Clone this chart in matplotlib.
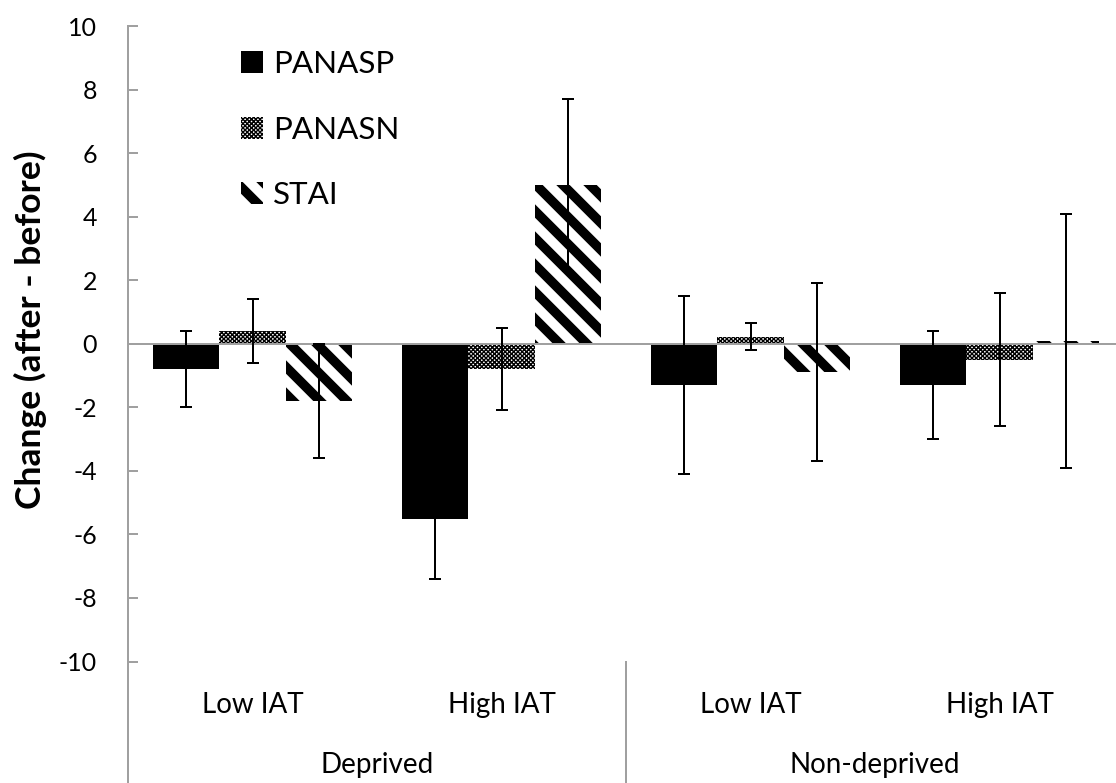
import matplotlib
matplotlib.use("Agg")
import matplotlib.pyplot as plt
import matplotlib.transforms as mtransforms
import numpy as np

# ---- data ----
groups = ["Deprived", "Non-deprived"]
subgroups = ["Low IAT", "High IAT", "Low IAT", "High IAT"]
series = ["PANASP", "PANASN", "STAI"]
panasp = [-0.8, -5.5, -1.3, -1.3]
panasp_err = [1.2, 1.9, 2.8, 1.7]
panasn = [0.4, -0.8, 0.22, -0.5]
panasn_err = [1.0, 1.3, 0.43, 2.1]
stai = [-1.8, 5.0, -0.9, 0.08]
stai_err = [1.8, 2.7, 2.8, 4.0]
yticks = list(range(-10, 11, 2))
ylabel = "Change (after - before)"

W, H, DPI = 1116, 783, 243
PT = 72.0 / DPI  # points per pixel

plt.rcParams['font.family'] = ['Lato', 'DejaVu Sans']
plt.rcParams['axes.unicode_minus'] = False
fig = plt.figure(figsize=(W / DPI, H / DPI), dpi=DPI)

left_px, right_px, top_px, bot_px = 128, 1124, 26, 661.5
ax = fig.add_axes([left_px / W, 1 - bot_px / H,
                   (right_px - left_px) / W, (bot_px - top_px) / H])

gray = "#a0a0a0"
x = np.arange(len(subgroups))
bw = 0.8 / 3
vals = [panasp, panasn, stai]
errs = [panasp_err, panasn_err, stai_err]
hatches = [None, "x" * 19, "\\\\\\"]
hlw = [1.4 * PT, 1.4 * PT, 9.5 * PT]
handles = []


def set_hlw(patch, w):
    if hasattr(patch, "set_hatch_linewidth"):
        patch.set_hatch_linewidth(w)


for i, (v, e) in enumerate(zip(vals, errs)):
    pos = x + (i - 1) * bw
    with plt.rc_context({'hatch.linewidth': hlw[i]}):
        bars = ax.bar(pos, v, width=bw, color="black" if i == 0 else "white",
                      edgecolor="black", linewidth=0, hatch=hatches[i], zorder=2)
        for b in bars:
            set_hlw(b, hlw[i])
    handles.append(bars)
    ax.errorbar(pos, v, yerr=e, fmt="none", ecolor="black",
                elinewidth=2 * PT, capsize=6 * PT, capthick=2 * PT, zorder=4)

ax.axhline(0, color=gray, lw=2 * PT, zorder=3)

ax.set_xlim(-0.5, len(subgroups) - 0.5)
ax.set_ylim(-10, 10)
ax.set_yticks(yticks)
ax.set_xticks([])
for s in ["top", "right", "bottom"]:
    ax.spines[s].set_visible(False)
ax.spines["left"].set_color(gray)
ax.spines["left"].set_linewidth(2 * PT)
ax.tick_params(axis="y", direction="in", length=10 * PT, width=2 * PT,
               color=gray, pad=31 * PT, labelsize=25 * PT, labelcolor="black")

# extend the left axis line and the group separator down to the bottom
ax.plot([-0.5, -0.5], [0, -0.3], transform=ax.get_xaxis_transform(),
        color=gray, lw=2 * PT, clip_on=False, zorder=1)
ax.plot([1.5, 1.5], [0, -0.3], transform=ax.get_xaxis_transform(),
        color=gray, lw=2 * PT, clip_on=False, zorder=1)

# category labels
tr = mtransforms.blended_transform_factory(ax.transData, fig.transFigure)
for xi, lab in zip(x, subgroups):
    ax.text(xi, 1 - 713 / H, lab, transform=tr, ha="center", va="baseline",
            fontsize=27.8 * PT)
for gi, g in enumerate(groups):
    ax.text(0.5 + 2 * gi, 1 - 773 / H, g, transform=tr,
            ha="center", va="baseline", fontsize=27.8 * PT)

fig.text(30 / W, 1 - 330 / H, ylabel, rotation=90, ha="center", va="center",
         fontsize=35.5 * PT, fontweight="bold")

leg = ax.legend(handles, series, loc="upper left",
                bbox_to_anchor=(241 / W, 1 - 50 / H), bbox_transform=fig.transFigure,
                frameon=False, fontsize=31.4 * PT, handlelength=0.7, handleheight=0.7,
                handletextpad=0.33, labelspacing=1.2, borderpad=0, borderaxespad=0)
for p, w in zip(leg.get_patches(), hlw):
    set_hlw(p, w)

fig.savefig("out.png", dpi=DPI)
